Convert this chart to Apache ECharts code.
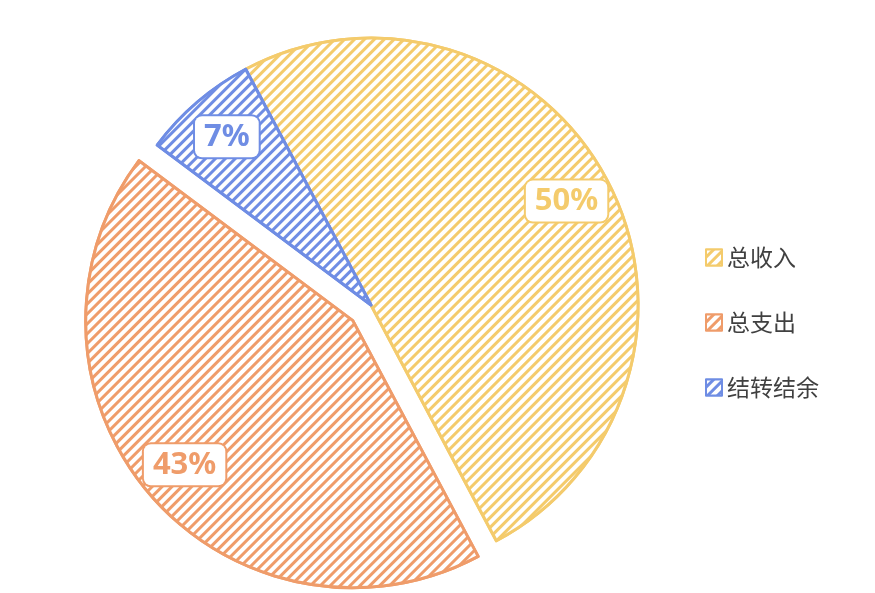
<!DOCTYPE html>
<html>
<head>
<meta charset="utf-8">
<script src="https://cdn.jsdelivr.net/npm/echarts@6/dist/echarts.min.js"></script>
<style>
html,body{margin:0;padding:0;background:#fff;}
#main{width:875px;height:593px;}
</style>
</head>
<body>
<div id="main"></div>
<script>
const categories = ['总收入', '总支出', '结转结余'];
const values = [50, 43, 7];
const colors = ['#F4CB6C', '#EF9C6A', '#6F8DE4'];
const selectedName = '总支出';

const decal = {
  symbol: 'rect',
  color: '#ffffff',
  dashArrayX: [1, 0],
  dashArrayY: [4, 3],
  rotation: -Math.PI / 4
};

const mainData = categories.map((n, i) => ({
  name: n,
  value: values[i],
  selected: n === selectedName,
  itemStyle: { color: colors[i], borderColor: colors[i], borderWidth: 3, decal: decal }
}));

const labelData = categories.map((n, i) => ({
  name: n,
  value: values[i],
  selected: n === selectedName,
  itemStyle: { color: 'rgba(0,0,0,0)', borderWidth: 0 },
  label: { color: colors[i], borderColor: colors[i] }
}));

const chart = echarts.init(document.getElementById('main'));
chart.setOption({
  backgroundColor: '#ffffff',
  animation: false,
  legend: {
    orient: 'vertical',
    left: 700,
    top: 240,
    itemWidth: 16,
    itemHeight: 16,
    itemGap: 40,
    icon: 'rect',
    textStyle: { fontSize: 23, lineHeight: 25, color: '#404040', fontFamily: 'Noto Sans CJK SC' },
    data: categories
  },
  series: [
    {
      type: 'pie',
      center: [371, 305],
      radius: [0, 267],
      startAngle: 118,
      selectedMode: 'single',
      selectedOffset: 24,
      label: { show: false },
      labelLine: { show: false },
      data: mainData
    },
    {
      type: 'pie',
      center: [371, 305],
      radius: [170, 267],
      startAngle: 118,
      selectedMode: 'single',
      selectedOffset: 24,
      silent: true,
      label: {
        show: true,
        position: 'inside',
        formatter: '{d}%',
        fontSize: 31,
        fontWeight: 'bold',
        fontFamily: 'Noto Sans',
        backgroundColor: '#ffffff',
        borderWidth: 2,
        borderRadius: 7,
        padding: [6, 9, 4, 9]
      },
      labelLine: { show: false },
      data: labelData
    }
  ]
});
</script>
</body>
</html>
